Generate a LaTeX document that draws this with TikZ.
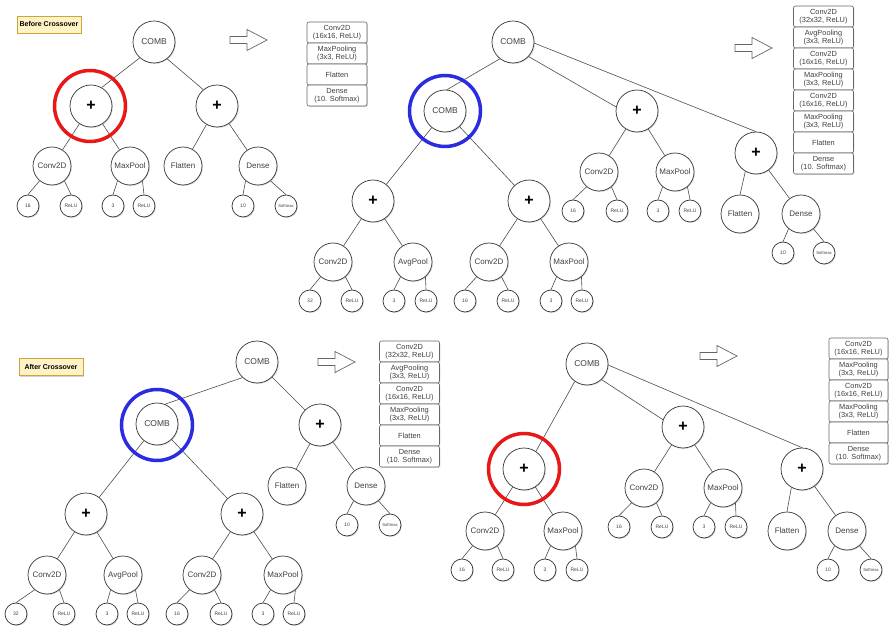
\documentclass[tikz,border=0pt]{standalone}
\usepackage{fontspec}
\setmainfont{Liberation Sans}
\usetikzlibrary{shadows}
\definecolor{tagfill}{HTML}{FFF2C4}
\definecolor{tagdraw}{HTML}{C9A640}
\definecolor{ringblue}{HTML}{2B2BE0}
\definecolor{ringred}{HTML}{E81818}
\begin{document}
\begin{tikzpicture}[x=1pt,y=-1pt,
  shad/.style={drop shadow={shadow xshift=0.9pt,shadow yshift=-0.9pt,opacity=0.3}},
  base/.style={circle,draw=black!80,line width=0.7pt,fill=white,inner sep=0pt,shad},
  opn/.style={base,minimum size=42pt,font=\fontsize{8.5}{10}\selectfont,text=black!75},
  plusn/.style={base,minimum size=42pt,font=\fontsize{16}{16}\selectfont\bfseries,text=black},
  midn/.style={base,minimum size=38pt,font=\fontsize{8}{9}\selectfont,text=black!75},
  leaf/.style={base,minimum size=22pt,font=\fontsize{5}{6}\selectfont,text=black!75},
  leafs/.style={leaf,font=\fontsize{4.2}{5}\selectfont},
  ring/.style={circle,draw=#1,line width=3.5pt,minimum size=71pt,inner sep=0pt},
  edge/.style={draw=black!70,line width=0.6pt},
  lbox/.style={rectangle,rounded corners=2pt,draw=black!60,line width=0.6pt,fill=white,minimum width=60pt,minimum height=21pt,inner sep=1pt,align=center,font=\fontsize{7.4}{8.4}\selectfont,text=black!75,shad},
  tag/.style={rectangle,draw=tagdraw,line width=0.7pt,fill=tagfill,minimum width=64pt,minimum height=17pt,inner sep=1pt,font=\fontsize{7}{8}\selectfont\bfseries,drop shadow={shadow xshift=1.2pt,shadow yshift=-1.2pt,opacity=0.35}},
  barrow/.style={draw=black!60,line width=0.7pt,fill=white,line join=miter}
]
\useasboundingbox (0,0) rectangle (889,628);

% ---------------- labels ----------------
\node[tag] (before) at (49,24.5) {Before Crossover};
\node[tag] (after) at (51,367) {After Crossover};

% ---------------- block arrows ----------------
\draw[barrow,shift={(230,40)}] (0,-3.5) -- (17,-3.5) -- (17,-10.5) -- (37,0) -- (17,10.5) -- (17,3.5) -- (0,3.5) -- cycle;
\draw[barrow,shift={(735,48)}] (0,-3.5) -- (17,-3.5) -- (17,-10.5) -- (37,0) -- (17,10.5) -- (17,3.5) -- (0,3.5) -- cycle;
\draw[barrow,shift={(318,362)}] (0,-3.5) -- (17,-3.5) -- (17,-10.5) -- (37,0) -- (17,10.5) -- (17,3.5) -- (0,3.5) -- cycle;
\draw[barrow,shift={(700,356)}] (0,-3.5) -- (17,-3.5) -- (17,-10.5) -- (37,0) -- (17,10.5) -- (17,3.5) -- (0,3.5) -- cycle;

% ---------------- layer lists ----------------
\foreach \t [count=\i] in {{Conv2D\\(16x16, ReLU)},{MaxPooling\\(3x3, ReLU)},{Flatten},{Dense\\(10. Softmax)}}
  \node[lbox] (ba\i) at ({337},{32.5+21*(\i-1)}) {\t};
\foreach \t [count=\i] in {{Conv2D\\(32x32, ReLU)},{AvgPooling\\(3x3, ReLU)},{Conv2D\\(16x16, ReLU)},{MaxPooling\\(3x3, ReLU)},{Conv2D\\(16x16, ReLU)},{MaxPooling\\(3x3, ReLU)},{Flatten},{Dense\\(10. Softmax)}}
  \node[lbox] (bb\i) at ({823.5},{16.5+21*(\i-1)}) {\t};
\foreach \t [count=\i] in {{Conv2D\\(32x32, ReLU)},{AvgPooling\\(3x3, ReLU)},{Conv2D\\(16x16, ReLU)},{MaxPooling\\(3x3, ReLU)},{Flatten},{Dense\\(10. Softmax)}}
  \node[lbox] (bc\i) at ({409.5},{351.5+21*(\i-1)}) {\t};
\foreach \t [count=\i] in {{Conv2D\\(16x16, ReLU)},{MaxPooling\\(3x3, ReLU)},{Conv2D\\(16x16, ReLU)},{MaxPooling\\(3x3, ReLU)},{Flatten},{Dense\\(10. Softmax)}}
  \node[lbox,minimum width=59pt] (bd\i) at ({858.5},{348.5+21*(\i-1)}) {\t};

% ---------------- tree 1 (top left) ----------------
\node[opn]   (t1r) at (154,42)  {COMB};
\node[plusn] (t1a) at (91,106)  {+};
\node[plusn] (t1b) at (217,106) {+};
\node[midn]  (t1c) at (52,166)  {Conv2D};
\node[midn]  (t1d) at (130,166) {MaxPool};
\node[midn]  (t1e) at (183,166) {Flatten};
\node[midn]  (t1f) at (258,166) {Dense};
\node[leaf]  (t1l1) at (28,206)  {16};
\node[leaf]  (t1l2) at (71,206)  {ReLU};
\node[leaf]  (t1l3) at (113,206) {3};
\node[leaf]  (t1l4) at (144,206) {ReLU};
\node[leaf]  (t1l5) at (243,206) {10};
\node[leafs] (t1l6) at (286,206) {Softmax};
\draw[edge] (t1r.228) -- (t1a.60);
\draw[edge] (t1r.-52) -- (t1b.130);
\foreach \a/\b in {t1a/t1c,t1a/t1d,t1b/t1e,t1b/t1f}
  \draw[edge] (\a) -- (\b);
\foreach \a/\b in {t1c/t1l1,t1d/t1l3,t1f/t1l5}
  \draw[edge] (\a.230) -- (\b.north);
\foreach \a/\b in {t1c/t1l2,t1d/t1l4,t1f/t1l6}
  \draw[edge] (\a.-50) -- (\b.north);
\node[ring=ringred] (ring1) at (90,106) {};

% ---------------- tree 2 (top right) ----------------
\node[opn]   (t2r) at (513,42)  {COMB};
\node[opn]   (t2a) at (445,111) {COMB};
\node[plusn] (t2b) at (637,111) {+};
\node[plusn] (t2c) at (756,153) {+};
\node[plusn] (t2d) at (373,201) {+};
\node[plusn] (t2e) at (529,201) {+};
\node[midn]  (t2f) at (333,262) {Conv2D};
\node[midn]  (t2g) at (413,262) {AvgPool};
\node[midn]  (t2h) at (489,262) {Conv2D};
\node[midn]  (t2i) at (569,262) {MaxPool};
\node[midn]  (t2j) at (599,172) {Conv2D};
\node[midn]  (t2k) at (675,172) {MaxPool};
\node[midn]  (t2m) at (740,214) {Flatten};
\node[midn]  (t2n) at (801,214) {Dense};
\node[leaf]  (t2l1) at (310,301) {32};
\node[leaf]  (t2l2) at (352,301) {ReLU};
\node[leaf]  (t2l3) at (394,301) {3};
\node[leaf]  (t2l4) at (426,301) {ReLU};
\node[leaf]  (t2l5) at (465,301) {16};
\node[leaf]  (t2l6) at (508,301) {ReLU};
\node[leaf]  (t2l7) at (551,301) {3};
\node[leaf]  (t2l8) at (582,301) {ReLU};
\node[leaf]  (t2l9) at (573,211) {16};
\node[leaf]  (t2l10) at (617,211) {ReLU};
\node[leaf]  (t2l11) at (658,211) {3};
\node[leaf]  (t2l12) at (690,211) {ReLU};
\node[leaf]  (t2l13) at (783,253) {10};
\node[leafs] (t2l14) at (824,253) {Softmax};
\draw[edge] (t2r.232) -- (t2a.85);
\draw[edge] (t2r.-43) -- (t2b.169);
\draw[edge] (t2r.-3) -- (t2c.north);
\draw[edge] (t2c.240) -- (t2m.north);
\foreach \a/\b in {t2a/t2d,t2a/t2e,t2d/t2f,t2d/t2g,t2e/t2h,t2e/t2i,t2b/t2j,t2b/t2k,t2c/t2n}
  \draw[edge] (\a) -- (\b);
\foreach \a/\b in {t2f/t2l1,t2g/t2l3,t2h/t2l5,t2i/t2l7,t2j/t2l9,t2k/t2l11,t2n/t2l13}
  \draw[edge] (\a.230) -- (\b.north);
\foreach \a/\b in {t2f/t2l2,t2g/t2l4,t2h/t2l6,t2i/t2l8,t2j/t2l10,t2k/t2l12,t2n/t2l14}
  \draw[edge] (\a.-50) -- (\b.north);
\node[ring=ringblue] (ring2) at (445,111) {};

% ---------------- tree 3 (bottom left) ----------------
\node[opn]   (t3r) at (257,362) {COMB};
\node[opn]   (t3a) at (157,424) {COMB};
\node[plusn] (t3b) at (320,425) {+};
\node[plusn] (t3c) at (86,514)  {+};
\node[plusn] (t3d) at (242,514) {+};
\node[midn]  (t3e) at (47,575)  {Conv2D};
\node[midn]  (t3f) at (123,575) {AvgPool};
\node[midn]  (t3g) at (202,575) {Conv2D};
\node[midn]  (t3h) at (283,575) {MaxPool};
\node[midn]  (t3m) at (287,486) {Flatten};
\node[midn]  (t3n) at (366,486) {Dense};
\node[leaf]  (t3l1) at (16,614)  {32};
\node[leaf]  (t3l2) at (64,614)  {ReLU};
\node[leaf]  (t3l3) at (107,614) {3};
\node[leaf]  (t3l4) at (138,614) {ReLU};
\node[leaf]  (t3l5) at (177,614) {16};
\node[leaf]  (t3l6) at (221,614) {ReLU};
\node[leaf]  (t3l7) at (263,614) {3};
\node[leaf]  (t3l8) at (294,614) {ReLU};
\node[leaf]  (t3l9) at (347,525) {10};
\node[leafs] (t3l10) at (390,525) {Softmax};
\draw[edge] (t3r.227) -- (t3a.68);
\foreach \a/\b in {t3r/t3b,t3a/t3c,t3a/t3d,t3c/t3e,t3c/t3f,t3d/t3g,t3d/t3h,t3b/t3m,t3b/t3n}
  \draw[edge] (\a) -- (\b);
\foreach \a/\b in {t3e/t3l1,t3f/t3l3,t3g/t3l5,t3h/t3l7,t3n/t3l9}
  \draw[edge] (\a.230) -- (\b.north);
\foreach \a/\b in {t3e/t3l2,t3f/t3l4,t3g/t3l6,t3h/t3l8,t3n/t3l10}
  \draw[edge] (\a.-50) -- (\b.north);
\node[ring=ringblue] (ring3) at (157,425) {};

% ---------------- tree 4 (bottom right) ----------------
\node[opn]   (t4r) at (587,364) {COMB};
\node[plusn] (t4a) at (524,469) {+};
\node[plusn] (t4b) at (683,427) {+};
\node[plusn] (t4c) at (802,469) {+};
\node[midn]  (t4d) at (485,531) {Conv2D};
\node[midn]  (t4e) at (563,531) {MaxPool};
\node[midn]  (t4f) at (644,488) {Conv2D};
\node[midn]  (t4g) at (723,488) {MaxPool};
\node[midn]  (t4m) at (787,531) {Flatten};
\node[midn]  (t4n) at (847,531) {Dense};
\node[leaf]  (t4l1) at (462,570) {16};
\node[leaf]  (t4l2) at (503,570) {ReLU};
\node[leaf]  (t4l3) at (545,570) {3};
\node[leaf]  (t4l4) at (577,570) {ReLU};
\node[leaf]  (t4l5) at (619,527) {16};
\node[leaf]  (t4l6) at (662,527) {ReLU};
\node[leaf]  (t4l7) at (704,527) {3};
\node[leaf]  (t4l8) at (736,527) {ReLU};
\node[leaf]  (t4l9) at (828,570) {10};
\node[leafs] (t4l10) at (871,570) {Softmax};
\draw[edge] (t4r.235) -- (t4a.56);
\draw[edge] (t4r.-47) -- (t4b.160);
\draw[edge] (t4r.-3) -- (t4c.north);
\draw[edge] (t4c.240) -- (t4m.north);
\foreach \a/\b in {t4a/t4d,t4a/t4e,t4b/t4f,t4b/t4g,t4c/t4n}
  \draw[edge] (\a) -- (\b);
\foreach \a/\b in {t4d/t4l1,t4e/t4l3,t4f/t4l5,t4g/t4l7,t4n/t4l9}
  \draw[edge] (\a.230) -- (\b.north);
\foreach \a/\b in {t4d/t4l2,t4e/t4l4,t4f/t4l6,t4g/t4l8,t4n/t4l10}
  \draw[edge] (\a.-50) -- (\b.north);
\node[ring=ringred] (ring4) at (524,469) {};
\end{tikzpicture}
\end{document}
